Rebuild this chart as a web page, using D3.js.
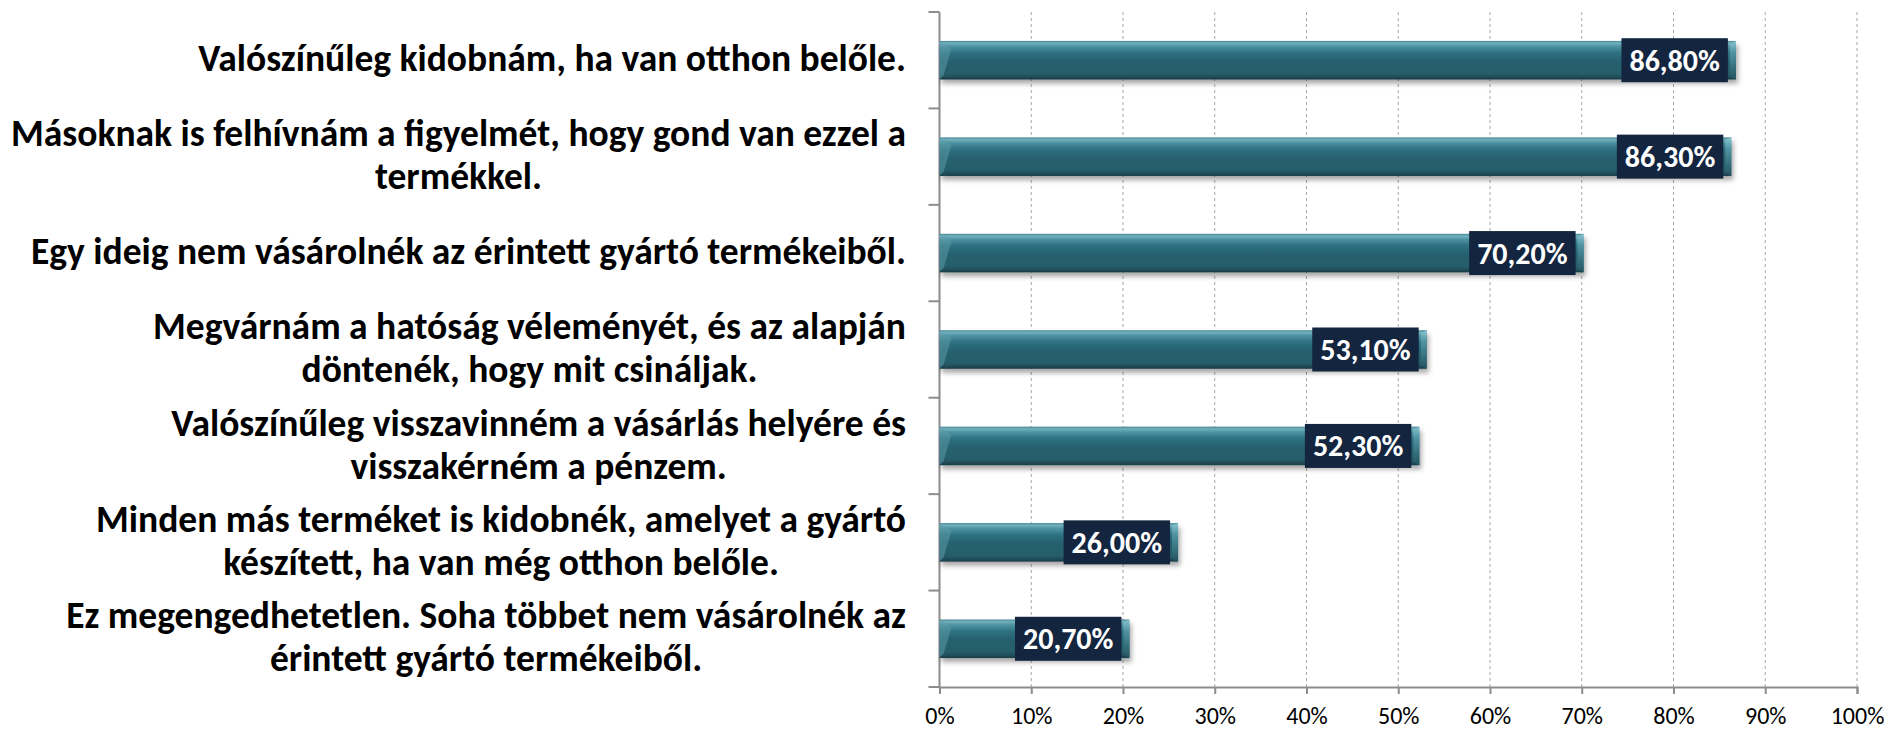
<!DOCTYPE html>
<html>
<head>
<meta charset="utf-8">
<script src="https://cdn.jsdelivr.net/npm/d3@7"></script>
<style>
  html, body { margin: 0; padding: 0; background: #ffffff; }
  svg { display: block; }
</style>
</head>
<body>
<svg id="chart" width="1889" height="731"></svg>
<script>
// ---- data ----
const categories = [
  ["Valószínűleg kidobnám, ha van otthon belőle."],
  ["Másoknak is felhívnám a figyelmét, hogy gond van ezzel a", "termékkel."],
  ["Egy ideig nem vásárolnék az érintett gyártó termékeiből."],
  ["Megvárnám a hatóság véleményét, és az alapján", "döntenék, hogy mit csináljak."],
  ["Valószínűleg visszavinném a vásárlás helyére és", "visszakérném a pénzem."],
  ["Minden más terméket is kidobnék, amelyet a gyártó", "készített, ha van még otthon belőle."],
  ["Ez megengedhetetlen. Soha többet nem vásárolnék az", "érintett gyártó termékeiből."]
];
const values = [86.8, 86.3, 70.2, 53.1, 52.3, 26.0, 20.7];
const valueLabels = ["86,80%", "86,30%", "70,20%", "53,10%", "52,30%", "26,00%", "20,70%"];
const tickValues = [0, 10, 20, 30, 40, 50, 60, 70, 80, 90, 100];

// ---- layout ----
(function () {
const svg = d3.select("#chart");
const plotL = 939.5, plotR = 1857, plotT = 12, plotB = 687;
const labelRight = 906;
const catFont = "Carlito, Calibri, Lato, 'Open Sans', sans-serif";

const x = d3.scaleLinear().domain([0, 100]).range([plotL, plotR]);
const idx = d3.range(categories.length);
const y = d3.scaleBand().domain(idx).range([plotT, plotB]).paddingInner(0.6).paddingOuter(0.3);
const yBand = d3.scaleBand().domain(idx).range([plotT, plotB]);

// defs
const defs = svg.append("defs");
const grad = defs.append("linearGradient").attr("id", "barGrad")
  .attr("x1", 0).attr("y1", 0).attr("x2", 0).attr("y2", 1);
[
  [0, "#4a8a98"], [0.06, "#72b0bd"], [0.14, "#4e93a2"], [0.3, "#2f7282"],
  [0.5, "#276270"], [0.85, "#255d6a"], [0.93, "#204e59"], [1, "#193a43"]
].forEach(([o, c]) => grad.append("stop").attr("offset", o).attr("stop-color", c));

const capGrad = defs.append("linearGradient").attr("id", "capGrad")
  .attr("x1", 0).attr("y1", 0).attr("x2", 0).attr("y2", 1);
[[0, "#8cc4cf"], [0.3, "#4f93a2"], [1, "#23535f"]]
  .forEach(([o, c]) => capGrad.append("stop").attr("offset", o).attr("stop-color", c));

const shadow = defs.append("filter").attr("id", "shadow")
  .attr("x", "-5%").attr("y", "-30%").attr("width", "115%").attr("height", "180%");
shadow.append("feDropShadow").attr("dx", 2).attr("dy", 4).attr("stdDeviation", 2.5)
  .attr("flood-color", "#000").attr("flood-opacity", 0.35);

// gridlines
svg.append("g").selectAll("line").data(tickValues.filter(d => d > 0)).join("line")
  .attr("x1", d => x(d)).attr("x2", d => x(d))
  .attr("y1", plotT).attr("y2", plotB)
  .attr("stroke", "#a6a6a6").attr("stroke-width", 1).attr("stroke-dasharray", "3,3");

// x axis
const xAxis = svg.append("g").attr("transform", `translate(0,${plotB})`)
  .call(d3.axisBottom(x).tickValues(tickValues).tickFormat(d => d + "%").tickSize(7).tickPadding(12));
xAxis.select(".domain").attr("stroke", "#8c8c8c").attr("stroke-width", 2);
xAxis.selectAll(".tick line").attr("stroke", "#8c8c8c").attr("stroke-width", 2);
xAxis.selectAll(".tick text").attr("font-family", catFont).attr("font-size", 24)
  .attr("fill", "#000").attr("dy", "0.75em");

// y axis (band boundaries as ticks)
const yAxisG = svg.append("g");
yAxisG.append("line").attr("x1", plotL).attr("x2", plotL).attr("y1", plotT).attr("y2", plotB)
  .attr("stroke", "#8c8c8c").attr("stroke-width", 2);
const boundaries = idx.map(i => yBand(i)).concat([plotB]);
yAxisG.selectAll("line.tick").data(boundaries).join("line").attr("class", "tick")
  .attr("x1", plotL - 11).attr("x2", plotL).attr("y1", d => d).attr("y2", d => d)
  .attr("stroke", "#8c8c8c").attr("stroke-width", 2);

// bars
const bars = svg.append("g");
const bh = y.bandwidth();
idx.forEach(i => {
  const g = bars.append("g");
  const x0 = x(0), x1 = x(values[i]), yy = y(i);
  const capW = 6;
  g.append("rect").attr("x", x0).attr("y", yy).attr("width", x1 - x0).attr("height", bh)
    .attr("fill", "url(#barGrad)").attr("filter", "url(#shadow)");
  g.append("path")
    .attr("d", `M${x0},${yy} L${x0 + 12},${yy + 8} L${x0 + 4},${yy + bh - 4} L${x0},${yy + bh} Z`)
    .attr("fill", "#5f9eab").attr("opacity", 0.5);
  g.append("path")
    .attr("d", `M${x1 - capW},${yy + 3} L${x1},${yy} L${x1},${yy + bh} L${x1 - capW},${yy + bh - 3} Z`)
    .attr("fill", "url(#capGrad)");
});

// value labels
const vl = svg.append("g");
idx.forEach(i => {
  const x1 = x(values[i]);
  const cy = y(i) + bh / 2;
  const t = vl.append("text").attr("font-family", catFont).attr("font-weight", "bold")
    .attr("font-size", 30).attr("fill", "#ffffff").attr("text-anchor", "middle")
    .attr("dy", "0.35em").text(valueLabels[i]);
  const w = t.node().getComputedTextLength();
  const bw = w + 16, bhh = 44;
  const bx = x1 - 8 - bw;
  vl.insert("rect", () => t.node()).attr("x", bx).attr("y", cy - bhh / 2)
    .attr("width", bw).attr("height", bhh).attr("fill", "#13253f");
  t.attr("x", bx + bw / 2).attr("y", cy);
});

// category labels
const cl = svg.append("g");
const lineH = 43;
idx.forEach(i => {
  const lines = categories[i];
  const cy = yBand(i) + yBand.bandwidth() / 2 - 2;
  const g = cl.append("g");
  const texts = lines.map((s, k) => g.append("text").attr("font-family", catFont)
    .attr("font-weight", "bold").attr("font-size", 37.5).attr("fill", "#000")
    .attr("text-anchor", "middle").attr("dy", "0.35em")
    .attr("y", cy + (k - (lines.length - 1) / 2) * lineH).text(s));
  const maxW = d3.max(texts, t => t.node().getComputedTextLength());
  texts.forEach(t => t.attr("x", labelRight - maxW / 2));
});
})();
</script>
</body>
</html>
